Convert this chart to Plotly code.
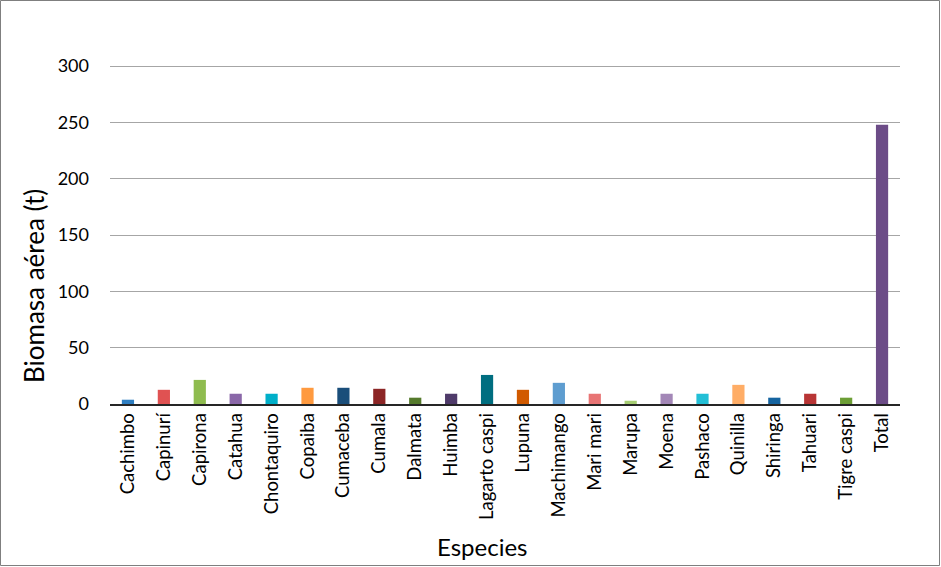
import plotly.graph_objects as go

especies = ["Cachimbo", "Capinurí", "Capirona", "Catahua", "Chontaquiro", "Copaiba",
            "Cumaceba", "Cumala", "Dalmata", "Huimba", "Lagarto caspi", "Lupuna",
            "Machimango", "Mari mari", "Marupa", "Moena", "Pashaco", "Quinilla",
            "Shiringa", "Tahuari", "Tigre caspi", "Total"]
biomasa = [3.8, 12.6, 21.4, 9.1, 9.1, 14.4, 14.4, 13.5, 5.6, 9.1, 25.8, 12.6,
           18.8, 9.1, 2.9, 9.1, 9.1, 17.0, 5.6, 9.1, 5.6, 248.0]
colores = ["#2E7EC1", "#E05252", "#8FBC4F", "#8A67A8", "#00AFC9", "#FF9A3F",
           "#1A4E7A", "#8C2626", "#557A2C", "#4F3B6A", "#006E80", "#D15A00",
           "#5E9DD0", "#E87474", "#A6CD72", "#A387B7", "#23BFD6", "#FFAD66",
           "#1564A0", "#B83535", "#6C9E35", "#6C4C87"]
y_ticks = [0, 50, 100, 150, 200, 250, 300]

FONT = "Lato, 'Open Sans', sans-serif"

fig = go.Figure(go.Bar(x=especies, y=biomasa, marker=dict(color=colores, line=dict(width=0))))

W, H = 941, 567
L, R, T, B = 110, 41, 65, 163
pw, ph = W - L - R, H - T - B

fig.update_layout(
    width=W, height=H,
    margin=dict(l=L, r=R, t=T, b=B, pad=0),
    paper_bgcolor="white", plot_bgcolor="white",
    bargap=0.66,
    showlegend=False,
    font=dict(family=FONT, color="#000000", size=18),
    xaxis=dict(tickangle=-90, showgrid=False, showline=True, linecolor="#262626",
               linewidth=1.5, ticks="", tickfont=dict(size=18.5, family=FONT)),
    yaxis=dict(range=[0, 301], tickvals=y_ticks, showgrid=True, gridcolor="#A6A6A6",
               gridwidth=1, zeroline=False, showline=False, ticks="",
               tickfont=dict(size=18, family=FONT), ticklabelstandoff=20),
    annotations=[
        dict(text="Biomasa aérea (t)", x=(34 - L) / pw, y=1 - (286 - T) / ph,
             xref="paper", yref="paper",
             textangle=-90, showarrow=False, font=dict(size=26, family=FONT),
             xanchor="center", yanchor="middle"),
        dict(text="Especies", x=(482 - L) / pw, y=-(546 - (T + ph)) / ph, xref="paper",
             yref="paper", showarrow=False, font=dict(size=24, family=FONT),
             xanchor="center", yanchor="middle"),
    ],
    shapes=[
        dict(type="rect", xref="paper", yref="paper",
             x0=-(L - 0.5) / pw, x1=1 + (R - 1.5) / pw,
             y0=-(B - 1.5) / ph, y1=1 + (T - 0.5) / ph,
             line=dict(color="#7F7F7F", width=1), fillcolor="rgba(0,0,0,0)", layer="below"),
    ],
)

fig.write_html("out.html")
